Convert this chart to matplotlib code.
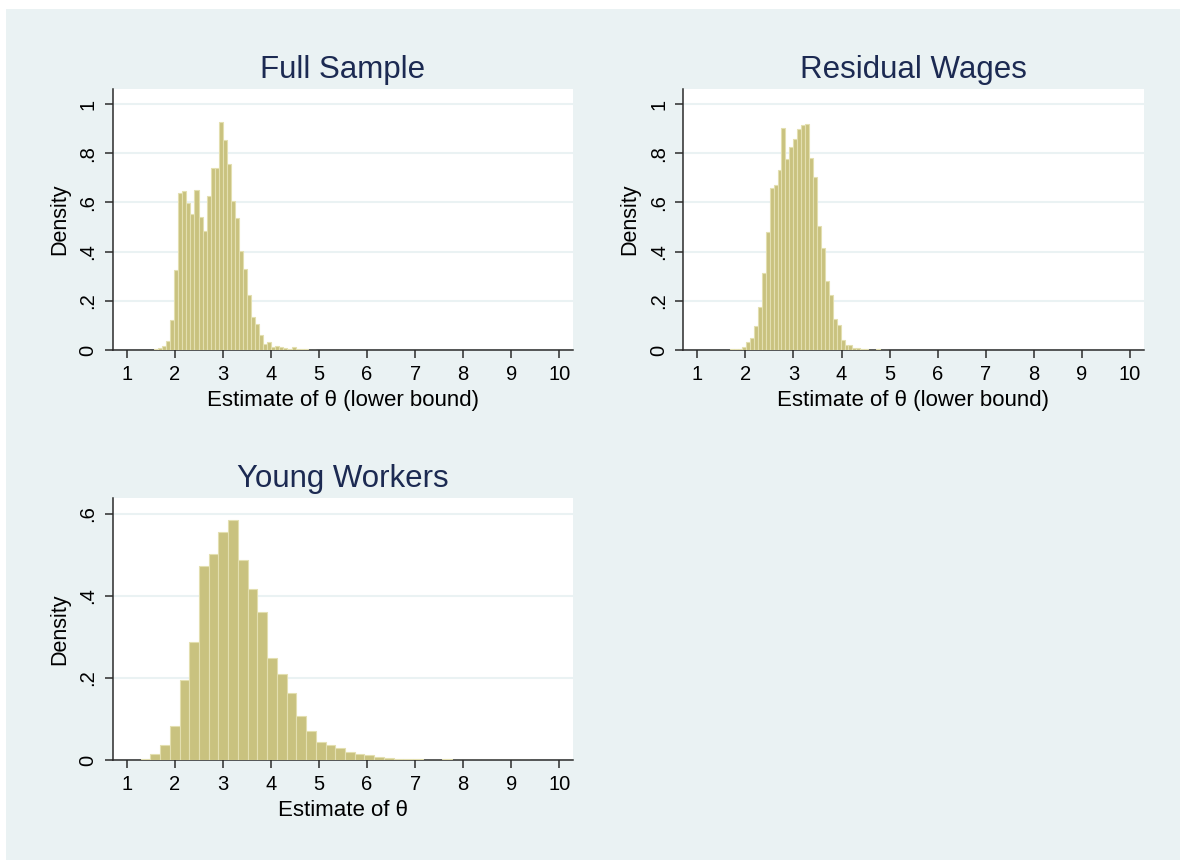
import numpy as np
import matplotlib.pyplot as plt
from matplotlib.patches import Rectangle

plt.rcParams['font.family'] = ['Liberation Sans', 'DejaVu Sans']

# histogram data: first bin edge, bin width, density per bin (40 bins each)
full_start, full_width = 1.57, 0.0841
full_density = [0.003, 0.007, 0.016, 0.037, 0.122, 0.325, 0.637, 0.646, 0.596, 0.553,
                0.650, 0.539, 0.484, 0.626, 0.738, 0.738, 0.925, 0.854, 0.757, 0.606,
                0.538, 0.402, 0.328, 0.224, 0.133, 0.106, 0.061, 0.024, 0.034, 0.011,
                0.016, 0.014, 0.009, 0.003, 0.011, 0.005, 0.003, 0.003, 0.001, 0.0]

resid_start, resid_width = 1.685, 0.082
resid_density = [0.003, 0.004, 0.006, 0.014, 0.031, 0.047, 0.098, 0.176, 0.312, 0.481,
                 0.657, 0.671, 0.732, 0.901, 0.776, 0.827, 0.856, 0.897, 0.915, 0.920,
                 0.779, 0.705, 0.504, 0.413, 0.280, 0.224, 0.127, 0.102, 0.041, 0.022,
                 0.019, 0.009, 0.008, 0.005, 0.003, 0.002, 0.001, 0.003, 0.001, 0.0]

young_start, young_width = 1.29, 0.2025
young_density = [0.003, 0.014, 0.037, 0.082, 0.194, 0.287, 0.472, 0.502, 0.555, 0.586,
                 0.488, 0.416, 0.362, 0.248, 0.209, 0.163, 0.108, 0.071, 0.044, 0.037,
                 0.028, 0.019, 0.014, 0.011, 0.008, 0.006, 0.0025, 0.0025, 0.0016, 0.001,
                 0.001, 0.0016, 0.001, 0.0005, 0.0005, 0.0, 0.0005, 0.0, 0.001, 0.0005]

x_ticks = list(range(1, 11))
y_ticks_a = [0, 0.2, 0.4, 0.6, 0.8, 1.0]
y_labels_a = ['0', '.2', '.4', '.6', '.8', '1']
y_ticks_b = [0, 0.2, 0.4, 0.6]
y_labels_b = ['0', '.2', '.4', '.6']

bg = '#EAF2F3'
bar_fill = '#C9C27F'
bar_edge = '#E3DFB0'
title_col = '#1C2A52'
axis_col = '#2B2B2B'

fig = plt.figure(figsize=(11.8, 8.6), dpi=100, facecolor='white')
fig.patches.append(Rectangle((6 / 1180, 0), 1, 1 - 9 / 860, transform=fig.transFigure,
                             facecolor=bg, edgecolor='none', zorder=-10))


def panel(rect, start, width, dens, title, xlabel, ytop, yt, yl):
    ax = fig.add_axes(rect)
    ax.set_facecolor('white')
    edges = start + width * np.arange(len(dens))
    ax.bar(edges, dens, width=width, align='edge', color=bar_fill,
           edgecolor=bar_edge, linewidth=0.8, zorder=3)
    ax.set_xlim(0.71, 10.285)
    ax.set_ylim(0, ytop)
    ax.set_xticks(x_ticks)
    ax.set_yticks(yt)
    ax.set_yticklabels(yl, rotation=90, va='center')
    for y in yt:
        ax.axhline(y, color=bg, linewidth=1.5, zorder=1)
    for s in ['top', 'right']:
        ax.spines[s].set_visible(False)
    for s in ['left', 'bottom']:
        ax.spines[s].set_color(axis_col)
        ax.spines[s].set_linewidth(1.1)
    ax.tick_params(axis='both', direction='out', length=6, width=1.1,
                   color=axis_col, labelsize=14.5, pad=5)
    ax.set_xlabel(xlabel, fontsize=16, labelpad=4)
    ax.set_ylabel('Density', fontsize=15.5, labelpad=6)
    ax.set_title(title, fontsize=22.5, color=title_col, pad=8)
    return ax


panel([0.0955, 0.5930, 0.3901, 0.3035], full_start, full_width, full_density,
      'Full Sample', 'Estimate of θ (lower bound)', 1.061, y_ticks_a, y_labels_a)
panel([0.5791, 0.5930, 0.3901, 0.3035], resid_start, resid_width, resid_density,
      'Residual Wages', 'Estimate of θ (lower bound)', 1.061, y_ticks_a, y_labels_a)
panel([0.0955, 0.1163, 0.3901, 0.3047], young_start, young_width, young_density,
      'Young Workers', 'Estimate of θ', 0.639, y_ticks_b, y_labels_b)

fig.savefig('out.png', dpi=100, facecolor=fig.get_facecolor())
